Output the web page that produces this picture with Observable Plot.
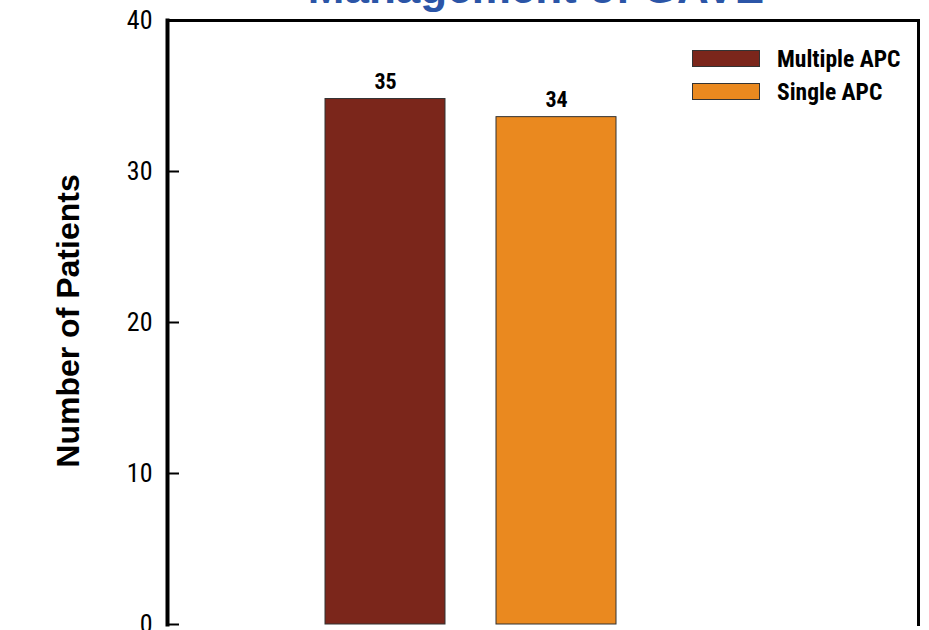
<!DOCTYPE html>
<html>
<head>
<meta charset="utf-8">
<script src="https://cdn.jsdelivr.net/npm/d3@7"></script>
<script src="https://cdn.jsdelivr.net/npm/@observablehq/plot@0.6"></script>
<style>
  html, body { margin: 0; padding: 0; background: #fff; overflow: hidden; }
  #wrap { position: relative; width: 929px; height: 630px; overflow: hidden; }
  #title { position: absolute; left: 161px; width: 750px; top: -34px; text-align: center;
    font: bold 44px/44px "Liberation Sans", Arial, sans-serif; color: #2B55A7; white-space: nowrap; }
  #ylabel { position: absolute; left: 68px; top: 321px; transform: translate(-50%, -50%) rotate(-90deg);
    font: bold 32px "Liberation Sans", Arial, sans-serif; color: #000; white-space: nowrap; }
  #legend { position: absolute; left: 692px; top: 42px; font: bold 23.5px "Liberation Sans Narrow", "Roboto Condensed", "DejaVu Sans Condensed", sans-serif; }
  .item { display: flex; align-items: center; height: 33px; }
  .sw { width: 66px; height: 15px; border: 1px solid #333; margin-right: 17px; }
  #chart { position: absolute; left: 0; top: 0; }
</style>
</head>
<body>
<div id="wrap">
  <div id="chart"></div>
  <div id="title"></div>
  <div id="ylabel"></div>
  <div id="legend"></div>
</div>
<script>
const titleText = "Management of GAVE";
const yLabel = "Number of Patients";
const groups = ["Multiple APC", "Single APC"];
const values = [34.8, 33.6];
const valueLabels = ["35", "34"];
const colors = ["#7B261B", "#EA891F"];
const yTicks = [0, 10, 20, 30, 40];

const data = groups.map((g, i) => ({group: g, value: values[i], label: valueLabels[i]}));
const narrow = '"Liberation Sans Narrow", "Roboto Condensed", "DejaVu Sans Condensed", sans-serif';

document.getElementById("title").textContent = titleText;
document.getElementById("ylabel").textContent = yLabel;
const legend = document.getElementById("legend");
groups.forEach((g, i) => {
  const it = document.createElement("div");
  it.className = "item";
  const sw = document.createElement("div");
  sw.className = "sw";
  sw.style.background = colors[i];
  const t = document.createElement("span");
  t.textContent = g;
  it.appendChild(sw); it.appendChild(t);
  legend.appendChild(it);
});

const chart = Plot.plot({
  width: 929,
  height: 660,
  marginTop: 20,
  marginBottom: 36,
  marginLeft: 167,
  marginRight: 11,
  style: {background: "transparent", fontFamily: narrow, color: "#000"},
  x: {type: "band", domain: groups, range: [324, 617], paddingInner: 0.2965, paddingOuter: 0, axis: null},
  y: {domain: [0, 40], ticks: yTicks, axis: null},
  color: {domain: groups, range: colors},
  marks: [
    Plot.barY(data, {x: "group", y: "value", fill: "group", stroke: "#333", strokeWidth: 1}),
    Plot.text(data, {x: "group", y: "value", text: "label", dy: -10, lineAnchor: "bottom",
      fontSize: 22, fontWeight: "bold", fill: "#000"}),
    Plot.tickY(yTicks, {y: d => d, stroke: "#000", strokeWidth: 2, insetRight: 739}),
    Plot.text(yTicks, {y: d => d, text: d => String(d), frameAnchor: "left", dx: -15,
      textAnchor: "end", fontSize: 26, fill: "#000"}),
    Plot.frame({anchor: "left", stroke: "#000", strokeWidth: 4}),
    Plot.frame({anchor: "top", stroke: "#000", strokeWidth: 3}),
    Plot.frame({anchor: "right", stroke: "#000", strokeWidth: 3})
  ]
});
document.getElementById("chart").appendChild(chart);
</script>
</body>
</html>
